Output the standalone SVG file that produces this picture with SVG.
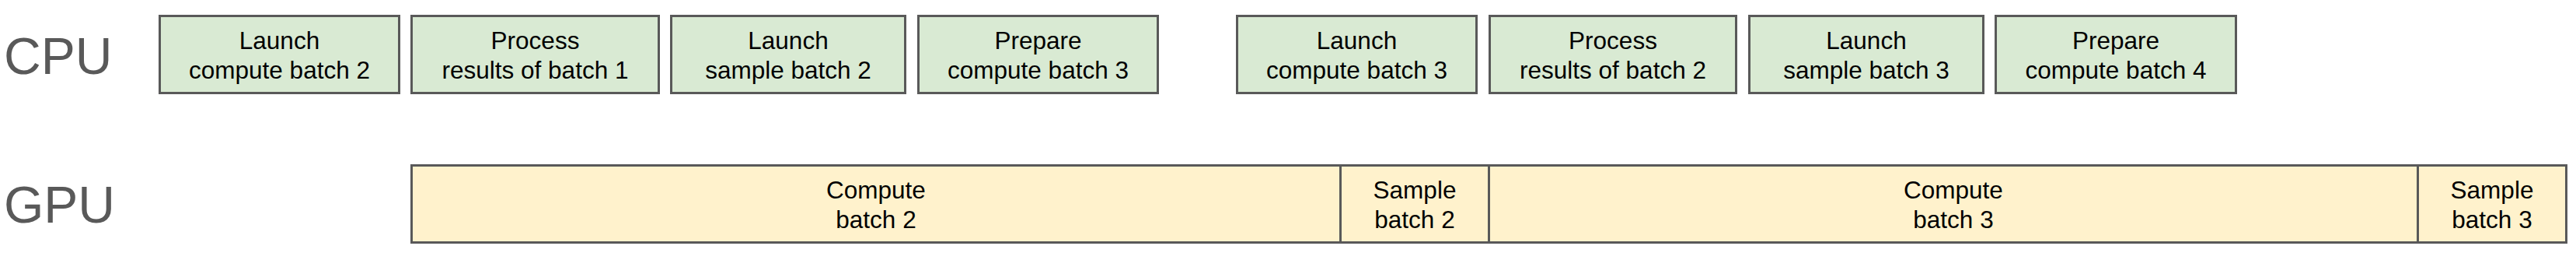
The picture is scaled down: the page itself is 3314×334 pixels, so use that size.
<svg xmlns="http://www.w3.org/2000/svg" width="3314" height="334" viewBox="0 0 3314 334">
<style>
.cpu rect{fill:#d9ead3;stroke:#595959;stroke-width:3}
.gpu rect{fill:#fff2cc;stroke:#595959;stroke-width:3}
.div{stroke:#595959;stroke-width:3}
text{font-family:"Liberation Sans",Arial,sans-serif;font-size:31.5px;fill:#000;text-anchor:middle}
text.lane{font-size:66px;fill:#595959;text-anchor:start}
</style>
<rect width="3314" height="334" fill="#fff"/>
<g id="lane-cpu"><text class="lane" x="5" y="95">CPU</text></g>
<g id="lane-gpu"><text class="lane" x="5" y="286">GPU</text></g>
<g id="cpu1" class="cpu"><rect x="205.5" y="20.5" width="308" height="99"/><text x="359.5" y="63">Launch</text><text x="359.5" y="101">compute batch 2</text></g>
<g id="cpu2" class="cpu"><rect x="529.5" y="20.5" width="318" height="99"/><text x="688.5" y="63">Process</text><text x="688.5" y="101">results of batch 1</text></g>
<g id="cpu3" class="cpu"><rect x="863.5" y="20.5" width="301" height="99"/><text x="1014" y="63">Launch</text><text x="1014" y="101">sample batch 2</text></g>
<g id="cpu4" class="cpu"><rect x="1181.5" y="20.5" width="308" height="99"/><text x="1335.5" y="63">Prepare</text><text x="1335.5" y="101">compute batch 3</text></g>
<g id="cpu5" class="cpu"><rect x="1591.5" y="20.5" width="308" height="99"/><text x="1745.5" y="63">Launch</text><text x="1745.5" y="101">compute batch 3</text></g>
<g id="cpu6" class="cpu"><rect x="1916.5" y="20.5" width="317" height="99"/><text x="2075" y="63">Process</text><text x="2075" y="101">results of batch 2</text></g>
<g id="cpu7" class="cpu"><rect x="2250.5" y="20.5" width="301" height="99"/><text x="2401" y="63">Launch</text><text x="2401" y="101">sample batch 3</text></g>
<g id="cpu8" class="cpu"><rect x="2567.5" y="20.5" width="309" height="99"/><text x="2722" y="63">Prepare</text><text x="2722" y="101">compute batch 4</text></g>
<g id="gpu1" class="gpu"><rect x="529.5" y="212.5" width="1195" height="99"/><text x="1127" y="255">Compute</text><text x="1127" y="293">batch 2</text></g>
<g id="gpu2" class="gpu"><rect x="1724.5" y="212.5" width="191" height="99"/><text x="1820" y="255">Sample</text><text x="1820" y="293">batch 2</text></g>
<g id="gpu3" class="gpu"><rect x="1915.5" y="212.5" width="1195" height="99"/><text x="2513" y="255">Compute</text><text x="2513" y="293">batch 3</text></g>
<g id="gpu4" class="gpu"><rect x="3110.5" y="212.5" width="191" height="99"/><text x="3206" y="255">Sample</text><text x="3206" y="293">batch 3</text></g>
<g id="connectors"></g>
</svg>
